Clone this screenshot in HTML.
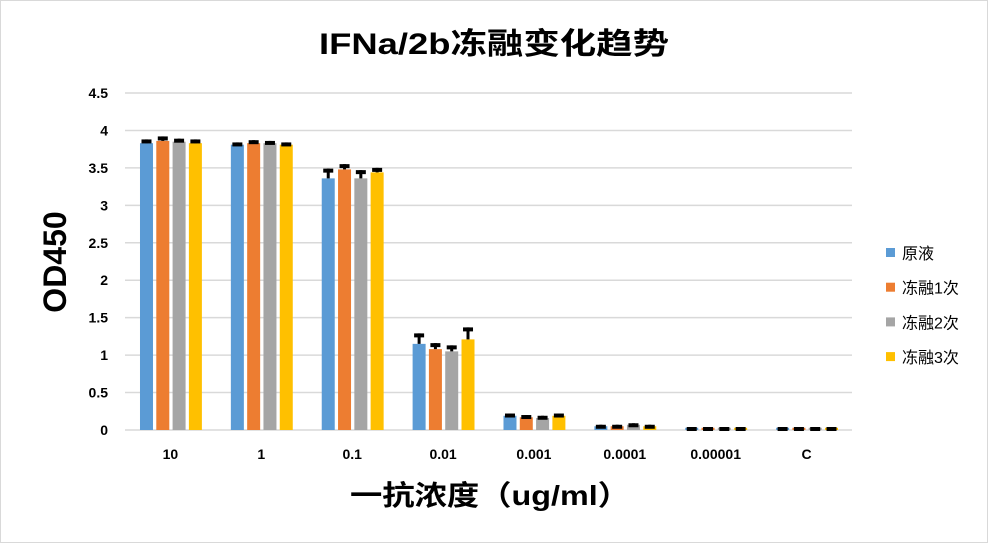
<!DOCTYPE html>
<html><head><meta charset="utf-8"><style>
body{margin:0;background:#fff}
svg{display:block;font-family:"Liberation Sans","Noto Sans CJK SC",sans-serif}
</style></head><body>
<svg id="chart" width="988" height="543" viewBox="0 0 988 543">
<rect x="0.5" y="0.5" width="987" height="542" fill="#fff" stroke="#d9d9d9"/>
<text x="494" y="54" text-anchor="middle" font-size="30" font-weight="bold" fill="#000" textLength="350" lengthAdjust="spacingAndGlyphs">IFNa/2b冻融变化趋势</text>
<text transform="translate(66,262) rotate(-90)" text-anchor="middle" font-size="32" font-weight="bold" fill="#000">OD450</text>
<text x="490" y="505" text-anchor="middle" font-size="28" font-weight="bold" fill="#000" textLength="280" lengthAdjust="spacingAndGlyphs">一抗浓度（ug/ml）</text>
<g id="grid"></g><g id="bars"></g><g id="xt"></g><g id="legend"></g>
</svg>
<script>
const categories=["10","1","0.1","0.01","0.001","0.0001","0.00001","C"];
const seriesNames=["原液","冻融1次","冻融2次","冻融3次"];
const colors=["#5b9bd5","#ed7d31","#a5a5a5","#ffc000"];
const yTicks=[0,0.5,1,1.5,2,2.5,3,3.5,4,4.5];
const s0=[3.83,3.81,3.36,1.15,0.19,0.05,0.03,0.03];
const s1=[3.86,3.83,3.48,1.08,0.17,0.05,0.03,0.03];
const s2=[3.85,3.83,3.36,1.05,0.16,0.07,0.03,0.03];
const s3=[3.83,3.81,3.44,1.21,0.19,0.05,0.03,0.03];
const e0=[0.05,0.03,0.13,0.14,0.03,0.02,0.01,0.01];
const e1=[0.06,0.04,0.07,0.08,0.03,0.02,0.01,0.01];
const e2=[0.04,0.03,0.11,0.08,0.03,0.02,0.01,0.01];
const e3=[0.05,0.03,0.06,0.16,0.03,0.02,0.01,0.01];
const series=[s0,s1,s2,s3], errs=[e0,e1,e2,e3];
const NS="http://www.w3.org/2000/svg";
const x0=125,x1=852,yZero=430,yTop=93,yMax=4.5;
const y=v=>yZero-(v/yMax)*(yZero-yTop);
const bw=(x1-x0)/categories.length;
const cx=i=>x0+bw*(i+0.5);
function mk(tag,attrs,parent){const e=document.createElementNS(NS,tag);for(const k in attrs)e.setAttribute(k,attrs[k]);parent.appendChild(e);return e;}
const grid=document.getElementById('grid');
yTicks.forEach(t=>{
  const l=mk('line',{x1:x0,x2:x1,y1:y(t),y2:y(t),stroke:'#d9d9d9','stroke-width':1.5},grid);
  
  
  const tx=mk('text',{x:108,y:y(t)+5,'text-anchor':'end','font-size':14,'font-weight':'bold',fill:'#000'},grid);
  tx.textContent=String(t);
  
  
});
const bars=document.getElementById('bars');
const barW=13,step=16.3;
categories.forEach((c,i)=>{
  series.forEach((s,j)=>{
    const bx=cx(i)-2*step+j*step+(step-barW)/2+0.5;
    const r=mk('rect',{x:bx,y:y(s[i]),width:barW,height:yZero-y(s[i]),fill:colors[j]},bars);
    
    
    const mid=bx+barW/2, et=y(s[i]+errs[j][i]);
    const st=mk('line',{x1:mid,x2:mid,y1:y(s[i]),y2:et,stroke:'#000','stroke-width':3},bars);
    
    
    const cap=mk('rect',{x:mid-5,y:et,width:10,height:4,fill:'#000'},bars);
    
    
  });
  const t=mk('text',{x:cx(i),y:459,'text-anchor':'middle','font-size':14,'font-weight':'bold',fill:'#000'},document.getElementById('xt'));
  t.textContent=c;
  
  
});
const lg=document.getElementById('legend');
seriesNames.forEach((n,j)=>{
  const yy=253+j*34.7;
  const r=mk('rect',{x:886,y:yy-5,width:9,height:9,fill:colors[j]},lg);
  
  
  const t=mk('text',{x:902,y:yy+6,'font-size':16,fill:'#000'},lg);
  t.textContent=n;
  
  
});
</script>
</body></html>
